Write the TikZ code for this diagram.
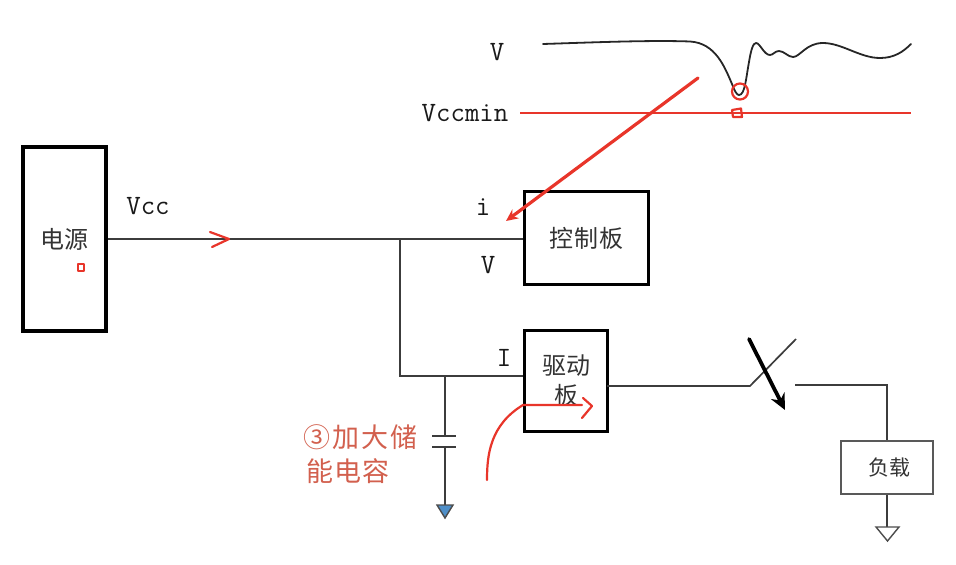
\documentclass[tikz,border=0pt]{standalone}
\usepackage{fontspec}
\usetikzlibrary{arrows.meta}
\newfontfamily\cjk{Noto Sans CJK SC}
\definecolor{inkred}{HTML}{E8352A}
\definecolor{softred}{HTML}{D2604E}
\definecolor{wire}{HTML}{3C3C3C}
\definecolor{gndblue}{HTML}{4F8FC8}
\tikzset{
  boxthick/.style={draw=black,line width=3.4pt,fill=white,inner sep=0pt,align=center,text=black!80,font=\cjk\fontsize{24}{30}\selectfont},
  boxthin/.style={draw=black!65,line width=1.8pt,fill=white,inner sep=0pt,font=\cjk\fontsize{21}{26}\selectfont,text=black!80},
  wirel/.style={draw=wire,line width=1.7pt},
  lab/.style={inner sep=0pt,text=black!90,font=\ttfamily\fontsize{28}{30}\selectfont},
  redpen/.style={draw=inkred,line width=2.2pt,line cap=round,line join=round},
  gnd/.style={line width=1.4pt,line join=miter},
  note/.style={inner sep=0pt,anchor=west,text=softred,font=\cjk\fontsize{27}{30}\selectfont}
}
\begin{document}
\begin{tikzpicture}[x=1pt,y=-1pt]
\useasboundingbox (0,0) rectangle (956,565);
% nodes
\node[boxthick,minimum width=83pt,minimum height=184pt] (psu) at (64.5,239) {电源};
\node[boxthick,minimum width=124pt,minimum height=93pt] (ctrl) at (586.5,238) {控\kern1pt 制\kern1pt 板};
\node[boxthick,minimum width=83pt,minimum height=101pt] (drv) at (566,381) {驱动\\板};
\node[boxthin,minimum width=92pt,minimum height=53pt,text width=92pt,align=center] (load) at (887,467.5) {\hspace*{4pt}负载};
% labels
\node[lab] (lv) at (497,52) {V};
\node[lab] (lvmin) at (465,113) {Vccmin};
\node[lab] (lvcc) at (148,206) {Vcc};
\node[lab] (li) at (483,207) {i};
\node[lab] (lv2) at (488,265) {V};
\node[lab] (lI) at (504,358) {I};
\node[note] (n1) at (303,437) {③\kern2pt 加\kern2pt 大\kern2pt 储};
\node[note] (n2) at (306,471) {能\kern1pt 电\kern1pt 容};
% junctions and free ends
\coordinate (j1) at (400,239);
\coordinate (j2) at (400,376);
\coordinate (j3) at (445,376);
\coordinate (captop) at (445,436);
\coordinate (capbot) at (445,447);
\coordinate (gnd1) at (445,505);
\coordinate (out) at (607,386);
\coordinate (sw1) at (750,386);
\coordinate (sw2) at (796,339);
\coordinate (sw3) at (795,385);
\coordinate (corner) at (887,385);
\coordinate (gnd2) at (887,527);
% wires
\draw[wirel] (psu.east |- j1) -- (ctrl.west |- j1);
\draw[wirel] (j1) -- (j2) -- (drv.west |- j2);
\draw[wirel] (j3) -- (captop);
\draw[wirel] (432,436) -- (456,436);
\draw[wirel] (432,447) -- (456,447);
\draw[wirel] (capbot) -- (gnd1);
\draw[wirel] (out) -- (sw1) -- (sw2);
\draw[wirel] (sw3) -- (corner) -- (load.north -| corner);
\draw[wirel] (load.south -| gnd2) -- (gnd2);
% grounds
\draw[gnd,draw=black!70,fill=gndblue] (437,505) -- (453,505) -- (445,518) -- cycle;
\draw[gnd,draw=black!70,fill=white] (876,527) -- (899,527) -- (887.5,541) -- cycle;
% switch blade
\draw[line width=3.8pt,line cap=round,-{Stealth[length=16pt,width=15pt]}] (749,339) -- (785,410);
% waveform
\draw[line width=1.8pt,black!85,line cap=round]
  (543,44) .. controls (590,42.5) and (650,40) .. (690,41.5)
  .. controls (716,43) and (725,68) .. (732,84)
  .. controls (735,92) and (737,95) .. (739,95)
  .. controls (745,95) and (746,78) .. (749,62)
  .. controls (751,50) and (753,43) .. (756,43)
  .. controls (760,43) and (764,55) .. (770,55)
  .. controls (773,55) and (775,51) .. (779,51)
  .. controls (784,51) and (788,57) .. (793,57)
  .. controls (800,57) and (806,43) .. (823,43)
  .. controls (842,43) and (860,58) .. (880,58)
  .. controls (894,58) and (903,52) .. (911,44);
% red annotations
\draw[draw=inkred,line width=1.5pt] (520,113) -- (911,113);
\draw[redpen] (740,91.5) circle (8);
\draw[redpen] (732,110) -- (741,108.5) -- (742,117) -- (733,117) -- cycle;
\draw[draw=inkred,line width=3.2pt,line cap=round,-{Stealth[length=12pt,width=11pt]}] (698,78) -- (506,221);
\draw[redpen] (210,232) -- (229,239) -- (212,247);
\draw[redpen,line width=2.6pt] (78,264) rectangle (84,271);
\draw[redpen] (487,480) .. controls (487,455) and (490,425) .. (523,405) -- (582,405);
\draw[redpen] (583,398) -- (592,406) -- (582,418);
\end{tikzpicture}
\end{document}
